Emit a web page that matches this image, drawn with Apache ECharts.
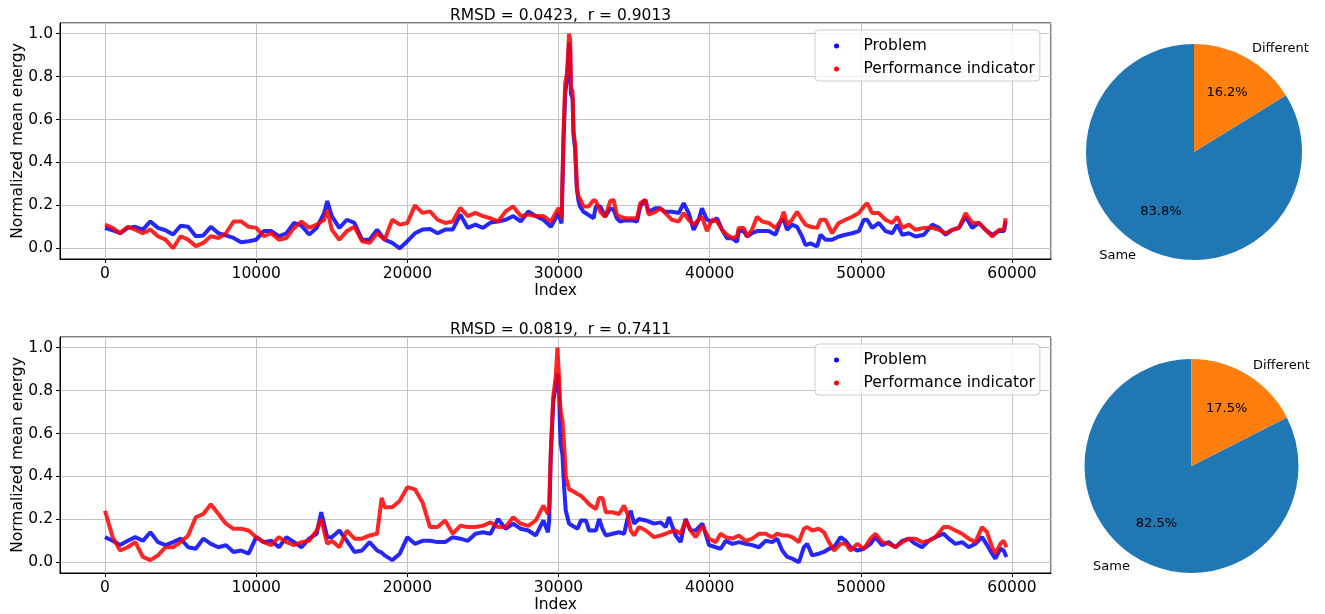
<!DOCTYPE html>
<html>
<head>
<meta charset="utf-8">
<script src="https://cdn.jsdelivr.net/npm/echarts@6.0.0/dist/echarts.min.js"></script>
<style>
  html, body { margin: 0; padding: 0; background: #fff; }
  #main { width: 1325px; height: 614px; }
</style>
</head>
<body>
<div id="main"></div>
<script>
// values (index -> normalized mean energy)
const topTitle = 'RMSD = 0.0423,  r = 0.9013';
const bottomTitle = 'RMSD = 0.0819,  r = 0.7411';
const seriesNames = ['Problem', 'Performance indicator'];
const pieLabels = ['Same', 'Different'];
const topPie = [83.8, 16.2];
const bottomPie = [82.5, 17.5];

const topIndex = [0,500,1000,1500,2000,2500,3000,3500,4000,4500,5000,5500,6000,6500,7000,7500,8000,8500,9000,9500,
  10000,10500,11000,11500,12000,12500,13000,13500,14000,14500,14700,15000,15500,16000,16500,17000,17500,18000,18500,19000,19500,
  20000,20500,21000,21500,22000,22500,23000,23500,24000,24500,25000,25500,26000,26500,27000,27500,28000,28500,29000,29500,30000,
  30200,30330,30440,30550,30620,30700,30770,30820,30930,30990,31100,31210,31320,
  31430,31650,31990,32320,32470,32760,33090,33420,33640,33860,
  34080,34410,34860,35190,35410,35740,35960,36400,36730,37060,
  37500,37950,38280,38610,38940,39270,39490,39820,40150,40490,
  40820,41150,41480,41810,41920,42250,42470,42800,43130,43470,
  43910,44350,44680,44900,45120,45450,45780,46110,46340,46670,
  47110,47330,47660,48100,48540,48980,49430,49870,50200,50420,
  50750,51190,51630,52080,52410,52740,53180,53620,54170,54720,
  55160,55610,56050,56490,56930,57370,57810,58260,58700,59140,
  59470,59580];
const topProblem = [0.095,0.084,0.07,0.095,0.10,0.087,0.125,0.095,0.084,0.064,0.105,0.10,0.056,0.06,0.10,0.07,0.06,0.048,0.028,0.033,
  0.04,0.08,0.08,0.056,0.07,0.118,0.105,0.064,0.095,0.165,0.22,0.15,0.095,0.133,0.118,0.04,0.04,0.087,0.04,0.025,0.0,
  0.033,0.07,0.087,0.09,0.07,0.087,0.087,0.157,0.095,0.11,0.095,0.12,0.125,0.133,0.15,0.125,0.172,0.15,0.133,0.10,0.165,
  0.116,0.50,0.72,0.78,0.85,0.96,0.92,0.72,0.70,0.53,0.46,0.28,0.22,
  0.194,0.17,0.155,0.14,0.195,0.195,0.147,0.186,0.18,0.14,
  0.124,0.13,0.13,0.124,0.195,0.226,0.17,0.186,0.186,0.17,
  0.17,0.164,0.21,0.164,0.086,0.133,0.186,0.133,0.124,0.14,
  0.086,0.047,0.047,0.03,0.08,0.08,0.055,0.07,0.08,0.08,
  0.08,0.063,0.124,0.133,0.086,0.11,0.10,0.055,0.015,0.023,
  0.008,0.063,0.04,0.04,0.055,0.063,0.07,0.08,0.133,0.133,
  0.095,0.118,0.08,0.07,0.11,0.063,0.07,0.055,0.063,0.11,
  0.095,0.063,0.086,0.095,0.147,0.095,0.118,0.086,0.063,0.08,
  0.08,0.125];
const topIndicator = [0.11,0.095,0.07,0.10,0.087,0.07,0.087,0.056,0.04,0.0,0.056,0.04,0.01,0.025,0.056,0.048,0.07,0.125,0.125,0.10,
  0.095,0.056,0.07,0.04,0.048,0.095,0.125,0.095,0.11,0.133,0.18,0.087,0.04,0.08,0.10,0.033,0.025,0.07,0.04,0.133,0.11,
  0.118,0.20,0.165,0.172,0.133,0.118,0.125,0.188,0.15,0.165,0.15,0.14,0.125,0.172,0.195,0.15,0.157,0.15,0.15,0.125,0.188,
  0.14,0.53,0.77,0.81,0.89,1.0,0.97,0.75,0.73,0.55,0.48,0.29,0.24,
  0.23,0.195,0.195,0.225,0.22,0.17,0.147,0.22,0.226,0.157,
  0.147,0.14,0.14,0.14,0.21,0.226,0.157,0.17,0.186,0.164,
  0.133,0.125,0.164,0.133,0.11,0.133,0.147,0.08,0.133,0.125,
  0.086,0.063,0.047,0.055,0.095,0.095,0.055,0.086,0.147,0.125,
  0.118,0.095,0.125,0.17,0.11,0.133,0.17,0.133,0.11,0.10,
  0.095,0.133,0.133,0.07,0.118,0.133,0.147,0.164,0.195,0.21,
  0.164,0.164,0.133,0.118,0.147,0.095,0.11,0.086,0.095,0.095,
  0.086,0.07,0.086,0.095,0.164,0.118,0.118,0.086,0.055,0.086,
  0.086,0.14];

const bottomIndex = [0,500,1000,1500,2000,2500,3000,3500,4000,4500,5000,5500,6000,6500,7000,7500,8000,8500,9000,9500,
  10000,10500,11000,11500,12000,12500,13000,13500,14000,14300,14700,15000,15500,16000,16500,17000,17500,18000,18300,
  18500,19000,19500,20000,20500,21000,21500,22000,22500,23000,23500,24000,24500,25000,25500,26000,26500,27000,27500,28000,28500,29000,29300,
  29380,29490,29650,29820,29930,30040,30090,30150,30260,30370,30480,30700,
  30920,31260,31480,31810,32030,32470,32690,32910,33130,33570,
  34010,34340,34560,34780,35000,35330,35770,36320,36760,37090,
  37310,37750,38080,38410,38740,39070,39520,39960,40400,40730,
  41060,41500,41940,42380,42820,43260,43700,44140,44470,44800,
  45130,45460,45900,46230,46450,46780,47220,47560,47890,48220,
  48660,48990,49320,49760,50200,50640,50970,51410,51850,52290,
  52730,53170,53610,54050,54490,54930,55480,55810,56260,56700,
  57140,57580,58020,58350,58680,58900,59230,59450,59630];
const bottomProblem = [0.117,0.10,0.08,0.10,0.117,0.10,0.14,0.094,0.08,0.094,0.11,0.07,0.063,0.11,0.086,0.07,0.08,0.048,0.055,0.04,
  0.117,0.094,0.10,0.07,0.117,0.094,0.07,0.11,0.133,0.233,0.117,0.117,0.148,0.10,0.048,0.055,0.094,0.055,0.045,
  0.032,0.01,0.04,0.117,0.086,0.10,0.10,0.094,0.094,0.117,0.11,0.10,0.133,0.14,0.133,0.202,0.156,0.18,0.156,0.148,0.125,0.195,0.14,
  0.19,0.50,0.75,0.82,0.88,0.80,0.65,0.55,0.50,0.35,0.24,0.18,
  0.17,0.156,0.195,0.195,0.148,0.148,0.202,0.156,0.125,0.133,
  0.14,0.133,0.202,0.24,0.18,0.202,0.195,0.18,0.186,0.164,
  0.21,0.125,0.094,0.202,0.148,0.148,0.18,0.08,0.07,0.063,
  0.10,0.086,0.094,0.086,0.08,0.07,0.10,0.094,0.11,0.055,
  0.025,0.017,0.0,0.07,0.086,0.032,0.04,0.048,0.063,0.07,
  0.117,0.10,0.07,0.055,0.063,0.086,0.117,0.08,0.094,0.07,
  0.10,0.11,0.086,0.07,0.10,0.117,0.133,0.11,0.086,0.094,
  0.07,0.086,0.117,0.08,0.04,0.017,0.063,0.055,0.025];
const bottomIndicator = [0.24,0.117,0.055,0.07,0.094,0.025,0.01,0.032,0.07,0.07,0.094,0.125,0.21,0.225,0.27,0.225,0.18,0.156,0.156,0.148,
  0.117,0.094,0.08,0.117,0.094,0.08,0.094,0.10,0.148,0.20,0.086,0.10,0.07,0.148,0.11,0.11,0.125,0.133,0.30,
  0.256,0.256,0.287,0.35,0.34,0.28,0.164,0.164,0.195,0.133,0.17,0.164,0.164,0.17,0.186,0.164,0.164,0.21,0.18,0.17,0.195,0.264,0.225,
  0.26,0.52,0.77,0.87,1.0,0.85,0.75,0.70,0.66,0.55,0.40,0.34,
  0.333,0.318,0.31,0.287,0.27,0.248,0.30,0.30,0.233,0.233,
  0.225,0.264,0.225,0.148,0.125,0.164,0.148,0.117,0.125,0.133,
  0.14,0.148,0.133,0.195,0.148,0.117,0.17,0.11,0.094,0.133,
  0.117,0.11,0.125,0.10,0.11,0.133,0.133,0.117,0.133,0.125,
  0.125,0.117,0.094,0.156,0.164,0.148,0.156,0.14,0.094,0.055,
  0.086,0.086,0.055,0.086,0.063,0.11,0.133,0.094,0.086,0.07,
  0.094,0.11,0.11,0.094,0.10,0.117,0.164,0.164,0.148,0.133,
  0.11,0.094,0.164,0.14,0.07,0.04,0.086,0.10,0.07];

const font = 'DejaVu Sans';
const blue = '#0000ff', red = '#ff0000';

function pairs(idx, vals) {
  return idx.map((x, i) => [x, vals[i]]);
}

const chart = echarts.init(document.getElementById('main'));

function xAxisFor(gi) {
  return {
    gridIndex: gi, type: 'value', min: -2980, max: 62580, splitNumber: 6,
    name: 'Index', nameLocation: 'middle', nameGap: 24, nameMoveOverlap: false,
    nameTextStyle: { fontFamily: font, fontSize: 15.5, color: '#000' },
    axisLine: { onZero: false, lineStyle: { color: '#000', width: 1 } },
    axisTick: { length: 4, lineStyle: { color: '#000' } },
    axisLabel: { margin: 7, fontFamily: font, fontSize: 15.5, color: '#000', showMinLabel: false, showMaxLabel: false,
      formatter: v => String(v) },
    splitLine: { lineStyle: { color: '#c4c4c4', width: 1 } }
  };
}
function yAxisFor(gi) {
  return {
    gridIndex: gi, type: 'value', min: -0.05, max: 1.05, splitNumber: 5,
    name: 'Normalized mean energy', nameLocation: 'middle', nameGap: 34, nameMoveOverlap: false,
    nameTextStyle: { fontFamily: font, fontSize: 15.5, color: '#000' },
    axisLine: { onZero: false, lineStyle: { color: '#000', width: 1 } },
    axisTick: { length: 4, lineStyle: { color: '#000' } },
    axisLabel: { margin: 7, fontFamily: font, fontSize: 15.5, color: '#000', showMinLabel: false, showMaxLabel: false,
      formatter: v => v.toFixed(1) },
    splitLine: { lineStyle: { color: '#c4c4c4', width: 1 } }
  };
}
function lineSeries(gi, name, color, idx, vals) {
  return {
    type: 'line', name: name, xAxisIndex: gi, yAxisIndex: gi,
    data: pairs(idx, vals), showSymbol: false, symbol: 'none',
    itemStyle: { color: color },
    lineStyle: { color: color, width: 4, opacity: 0.85 },
    emphasis: { disabled: true }, animation: false
  };
}
function legendFor(top) {
  return {
    data: seriesNames, orient: 'vertical', left: 815, top: top,
    icon: 'circle', itemWidth: 44, itemHeight: 5, itemGap: 5,
    padding: [7, 5, 3, 19],
    borderColor: '#cccccc', borderWidth: 1, borderRadius: 4, backgroundColor: 'rgba(255,255,255,0.8)',
    textStyle: { fontFamily: font, fontSize: 15.5, color: '#000', lineHeight: 18 }
  };
}
function pieSeries(center, r, vals) {
  const data = pieLabels.map((n, i) => ({ name: n, value: vals[i] }));
  return [{
    type: 'pie', center: center, radius: [0, r], startAngle: 90, clockwise: false,
    avoidLabelOverlap: false, animation: false, emphasis: { disabled: true },
    color: ['#1f77b4', '#ff7f0e'],
    data: data,
    label: { position: 'outside', formatter: '{b}', fontFamily: font, fontSize: 13, color: '#000', distanceToLabelLine: 0 },
    labelLine: { show: false, length: r * 0.1, length2: 0 }
  }, {
    type: 'pie', center: center, radius: [r * 0.2, r], startAngle: 90, clockwise: false,
    avoidLabelOverlap: false, animation: false, silent: true, emphasis: { disabled: true },
    itemStyle: { color: 'rgba(0,0,0,0)' },
    data: data,
    label: { position: 'inside', formatter: p => p.value.toFixed(1) + '%', fontFamily: font, fontSize: 13, color: '#000' },
    labelLine: { show: false }
  }];
}

const option = {
  backgroundColor: '#fff',
  animation: false,
  title: [
    { text: topTitle, left: 555.5, top: 3, textAlign: 'center',
      textStyle: { fontFamily: font, fontSize: 15.5, fontWeight: 'normal', color: '#000' } },
    { text: bottomTitle, left: 555.5, top: 317, textAlign: 'center',
      textStyle: { fontFamily: font, fontSize: 15.5, fontWeight: 'normal', color: '#000' } }
  ],
  grid: [
    { left: 60, top: 23, width: 991, height: 236, show: true, borderColor: '#000', borderWidth: 1, outerBoundsMode: 'none', containLabel: false },
    { left: 60, top: 337, width: 991, height: 236, show: true, borderColor: '#000', borderWidth: 1, outerBoundsMode: 'none', containLabel: false }
  ],
  legend: [legendFor(30), legendFor(344)],
  xAxis: [xAxisFor(0), xAxisFor(1)],
  yAxis: [yAxisFor(0), yAxisFor(1)],
  series: [
    lineSeries(0, seriesNames[0], blue, topIndex, topProblem),
    lineSeries(0, seriesNames[1], red, topIndex, topIndicator),
    lineSeries(1, seriesNames[0], blue, bottomIndex, bottomProblem),
    lineSeries(1, seriesNames[1], red, bottomIndex, bottomIndicator)
  ].concat(pieSeries([1194, 152], 108, topPie), pieSeries([1191.5, 466], 107, bottomPie))
};

chart.setOption(option);
</script>
</body>
</html>
